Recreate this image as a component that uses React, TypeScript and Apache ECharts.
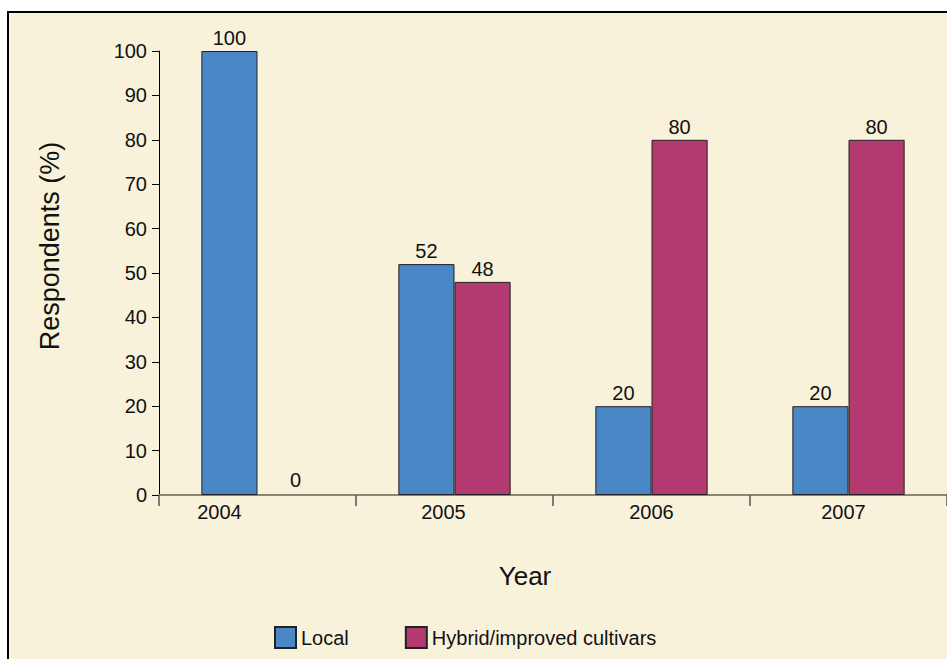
import React, { useEffect, useRef } from "react";
import * as echarts from "echarts";

const years = ["2004", "2005", "2006", "2007"];
const localValues = [100, 52, 20, 20];
const hybridValues = [0, 48, 80, 80];
const yTicks = [0, 10, 20, 30, 40, 50, 60, 70, 80, 90, 100];
const labelShiftRight = [76, 22, 0, 10];

const FONT = "'Liberation Sans', Arial, sans-serif";

export default function App() {
  const ref = useRef<HTMLDivElement>(null);
  useEffect(() => {
    if (!ref.current) return;
    const chart = echarts.init(ref.current, undefined, { renderer: "svg" });
    const rich: Record<string, any> = {};
    labelShiftRight.forEach((p, i) => {
      rich["c" + i] = { fontSize: 20, fontFamily: FONT, color: "#111", padding: [0, p, 0, 0] };
    });
    const toData = (arr: number[]) =>
      arr.map((v) =>
        v === 0
          ? { value: v, itemStyle: { borderWidth: 0 }, label: { offset: [10, 0], distance: 5 } }
          : v
      );
    chart.setOption({
      animation: false,
      backgroundColor: "#ffffff",
      textStyle: { fontFamily: FONT },
      graphic: [
        {
          type: "rect",
          z: -10,
          silent: true,
          shape: { x: 8, y: 12, width: 1200, height: 1200 },
          style: { fill: "#F9F2DA", stroke: "#000", lineWidth: 2 },
        },
        {
          type: "text",
          x: 50,
          y: 246,
          rotation: Math.PI / 2,
          style: {
            text: "Respondents (%)",
            font: `27px ${FONT}`,
            fill: "#111",
            align: "center",
            verticalAlign: "middle",
          },
        },
        {
          type: "text",
          x: 525,
          y: 576,
          style: {
            text: "Year",
            font: `26px ${FONT}`,
            fill: "#111",
            align: "center",
            verticalAlign: "middle",
          },
        },
      ],
      grid: { left: 159, top: 51, right: 0, bottom: 164, containLabel: false },
      legend: {
        left: 269,
        top: 621,
        itemWidth: 21,
        itemHeight: 21,
        itemGap: 56,
        icon: "rect",
        textStyle: { fontSize: 20, fontFamily: FONT, color: "#111" },
        data: ["Local", "Hybrid/improved cultivars"],
      },
      xAxis: {
        type: "category",
        data: years,
        axisLine: { lineStyle: { color: "#8a8576", width: 2 } },
        axisTick: { show: true, length: 11, lineStyle: { color: "#555", width: 1.5 }, interval: 0 },
        axisLabel: {
          interval: 0,
          margin: 7,
          formatter: (v: string, i: number) => `{c${i}|${v}}`,
          rich,
        },
      },
      yAxis: {
        type: "value",
        min: 0,
        max: 100,
        interval: 10,
        splitLine: { show: false },
        axisLine: { show: true, lineStyle: { color: "#000", width: 1 } },
        axisTick: { show: true, length: 7, lineStyle: { color: "#000", width: 1 } },
        axisLabel: {
          margin: 12,
          fontSize: 20,
          fontFamily: FONT,
          color: "#111",
          formatter: (v: number) => (yTicks.includes(v) ? String(v) : ""),
        },
      },
      series: [
        {
          name: "Local",
          type: "bar",
          data: toData(localValues),
          barGap: "0%",
          barCategoryGap: "43%",
          itemStyle: { color: "#4A87C6", borderColor: "#222", borderWidth: 1 },
          label: { show: true, position: "top", distance: 3, fontSize: 20, fontFamily: FONT, color: "#111" },
        },
        {
          name: "Hybrid/improved cultivars",
          type: "bar",
          data: toData(hybridValues),
          itemStyle: { color: "#B33A70", borderColor: "#222", borderWidth: 1 },
          label: { show: true, position: "top", distance: 3, fontSize: 20, fontFamily: FONT, color: "#111" },
        },
      ],
    });
    return () => chart.dispose();
  }, []);
  return (
    <div
      ref={ref}
      style={{ position: "absolute", left: 0, top: 0, width: 947, height: 659 }}
    />
  );
}
